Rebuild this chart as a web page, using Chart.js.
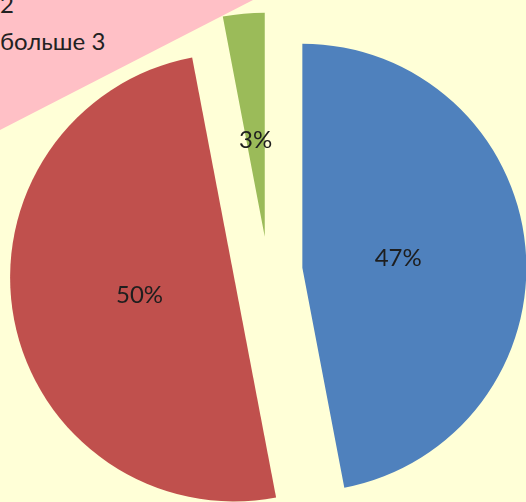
<!DOCTYPE html>
<html>
<head>
<meta charset="utf-8">
<script src="https://cdn.jsdelivr.net/npm/chart.js@4.4.1/dist/chart.umd.min.js"></script>
<style>
  html, body { margin: 0; padding: 0; }
  body {
    width: 526px;
    height: 502px;
    overflow: hidden;
    position: relative;
    background: #FFFFD7;
    font-family: Lato, sans-serif;
  }
  /* pink legend panel, only its corner shows */
  .legend-bg {
    position: absolute;
    left: 0;
    top: 0;
    width: 526px;
    height: 502px;
    background: #FFC0C6;
    clip-path: polygon(0 0, 253px 0, 0 130px);
  }
  #legend {
    position: absolute;
    left: 0;
    top: -52px;
    margin: 0;
    padding: 0;
    list-style: none;
    font-size: 24px;
    line-height: 37px;
    color: #222;
  }
  #legend li { position: relative; white-space: nowrap; }
  #legend li span {
    position: absolute;
    left: -22px;
    top: 12px;
    width: 12px;
    height: 12px;
  }
  #chart { position: absolute; left: 0; top: 0; }
</style>
</head>
<body>
<div class="legend-bg"></div>
<ul id="legend"></ul>
<canvas id="chart" width="526" height="502"></canvas>
<script>
// data
const categories = ['1', '2', 'больше 3'];
const shares = [47, 50, 3];
const sliceColors = ['#4F81BD', '#C0504D', '#9BBB59'];

const EXPLODE = 34.5;     // how far every slice is pulled out, px
const LABEL_POS = 0.43;   // label distance from slice tip, share of radius

// legend (its markers sit outside the visible area, as in the picture)
document.getElementById('legend').innerHTML = categories.map((c, i) =>
    `<li><span style="background:${sliceColors[i]}"></span>${c}</li>`
).join('');

const explodePlugin = {
    id: 'explode',
    beforeDatasetDraw(chart, args) {
        const ctx = chart.ctx;
        args.meta.data.forEach((arc) => {
            const mid = (arc.startAngle + arc.endAngle) / 2;
            ctx.save();
            ctx.translate(Math.cos(mid) * EXPLODE, Math.sin(mid) * EXPLODE);
            arc.draw(ctx);
            ctx.restore();
        });
        return false;
    },
    afterDatasetsDraw(chart) {
        const ctx = chart.ctx;
        const arcs = chart.getDatasetMeta(0).data;
        const total = shares.reduce((a, b) => a + b, 0);
        ctx.save();
        ctx.font = '24px Lato';
        ctx.fillStyle = '#1E1E1E';
        ctx.textAlign = 'center';
        ctx.textBaseline = 'middle';
        arcs.forEach((arc, i) => {
            const mid = (arc.startAngle + arc.endAngle) / 2;
            const r = EXPLODE + arc.outerRadius * LABEL_POS;
            const text = Math.round(shares[i] / total * 100) + '%';
            ctx.fillText(text, arc.x + Math.cos(mid) * r, arc.y + Math.sin(mid) * r);
        });
        ctx.restore();
    }
};

new Chart(document.getElementById('chart'), {
    type: 'pie',
    data: {
        labels: categories,
        datasets: [{
            data: shares,
            backgroundColor: sliceColors,
            borderWidth: 0
        }]
    },
    options: {
        responsive: false,
        animation: false,
        radius: 224,
        layout: { padding: { left: 10, top: 40, right: 0, bottom: 0 } },
        plugins: {
            legend: { display: false },
            tooltip: { enabled: false }
        }
    },
    plugins: [explodePlugin]
});
</script>
</body>
</html>
